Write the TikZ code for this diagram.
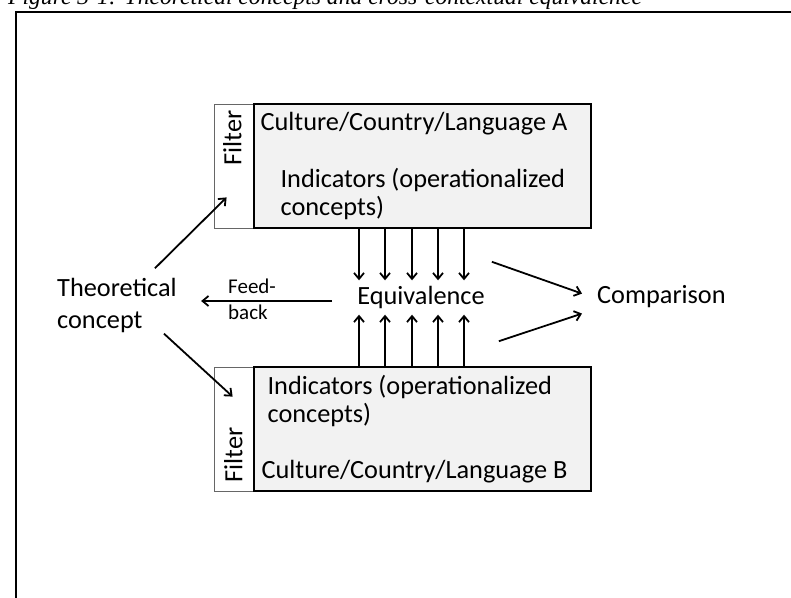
\documentclass[tikz,border=0pt]{standalone}
\usepackage{fontspec}
\setmainfont{Carlito}
\newfontfamily\captionfont{Liberation Serif}
\usetikzlibrary{calc,positioning,arrows.meta}

\tikzset{
	box/.style={draw=black, line width=2pt, fill=black!5, minimum width=337pt, minimum height=124pt, inner sep=0pt},
	filterbox/.style={draw=black!60, line width=0.8pt, fill=white, minimum width=39pt, minimum height=124pt, inner sep=0pt},
	txt/.style={anchor=base west, inner sep=0pt, align=left, font=\fontsize{26.3}{28}\selectfont},
	arr/.style={line width=1.8pt, -{Straight Barb[length=6pt,width=10pt]}}
}

\begin{document}
\begin{tikzpicture}[x=1pt,y=-1pt]
			%%%%% START %%%%%
			
			\useasboundingbox (0,0) rectangle (791,597);
			\clip (0,0) rectangle (791,597);
			
			\node[anchor=base west, inner sep=0pt, font=\captionfont\itshape\fontsize{23.6}{24}\selectfont] (caption) at (8,5) {Figure 3-1: Theoretical concepts and cross-contextual equivalence};
			\draw[line width=2pt] (16,700) -- (16,12) -- (900,12);
			
			\node[filterbox] (filterA) at (233.5,166) {};
			\node[box, anchor=west] (boxA) at (filterA.east) {};
			\node[filterbox] (filterB) at (233.5,429) {};
			\node[box, anchor=west] (boxB) at (filterB.east) {};
			
			% multi-line texts sit on the baseline of their last line
			\node[txt, rotate=90] (filA) at ($(filterA.south east)+(-12,-63)$) {Filter};
			\node[txt] (cultA) at ($(boxA.north west)+(7,27.7)$) {Culture/Country/Language A};
			\node[txt] (indA) at ($(boxA.north west)+(27,112)$) {Indicators (operationalized\\concepts)};
			
			\node[txt, rotate=90] (filB) at ($(filterB.south east)+(-11,-9)$) {Filter};
			\node[txt] (indB) at ($(boxB.north west)+(14,56.3)$) {Indicators (operationalized\\concepts)};
			\node[txt] (cultB) at ($(boxB.north west)+(8,112)$) {Culture/Country/Language B};
			
			\node[inner sep=0pt, minimum height=34pt, font=\fontsize{26.3}{28}\selectfont] (equiv) at (421,297.5) {Equivalence};
			\node[txt] (comp) at (597,303.3) {Comparison};
			\node[txt, font=\fontsize{26.3}{31.5}\selectfont] (theory) at (57,328.2) {Theoretical\\concept};
			\node[txt, font=\fontsize{21}{26}\selectfont] (fb) at (228,319.3) {Feed-\\back};
			
			\foreach \x in {359,385,412,438,464} {
				\draw[arr] (boxA.south -| \x,0) -- (equiv.north -| \x,0);
				\draw[arr] (boxB.north -| \x,0) -- (equiv.south -| \x,0);
			}
			
			\draw[arr] ($(equiv.west)+(-25,3.5)$) -- ++(-131,0);
			
			\draw[arr] ($(equiv.north east)+(7,-18.5)$) -- ($(comp.west)+(-15,-2.8)$);
			\draw[arr] ($(equiv.south east)+(14,26.5)$) -- ($(comp.west)+(-15,17.2)$);
			
			\draw[arr] ($(theory.north east)+(-22,-10)$) -- ($(filterA.south west)+(13,-31)$);
			\draw[arr] ($(theory.south east)+(-13,1)$) -- ($(filterB.north west)+(19,30)$);
			
			%%%%% END %%%%%
\end{tikzpicture}
\end{document}
